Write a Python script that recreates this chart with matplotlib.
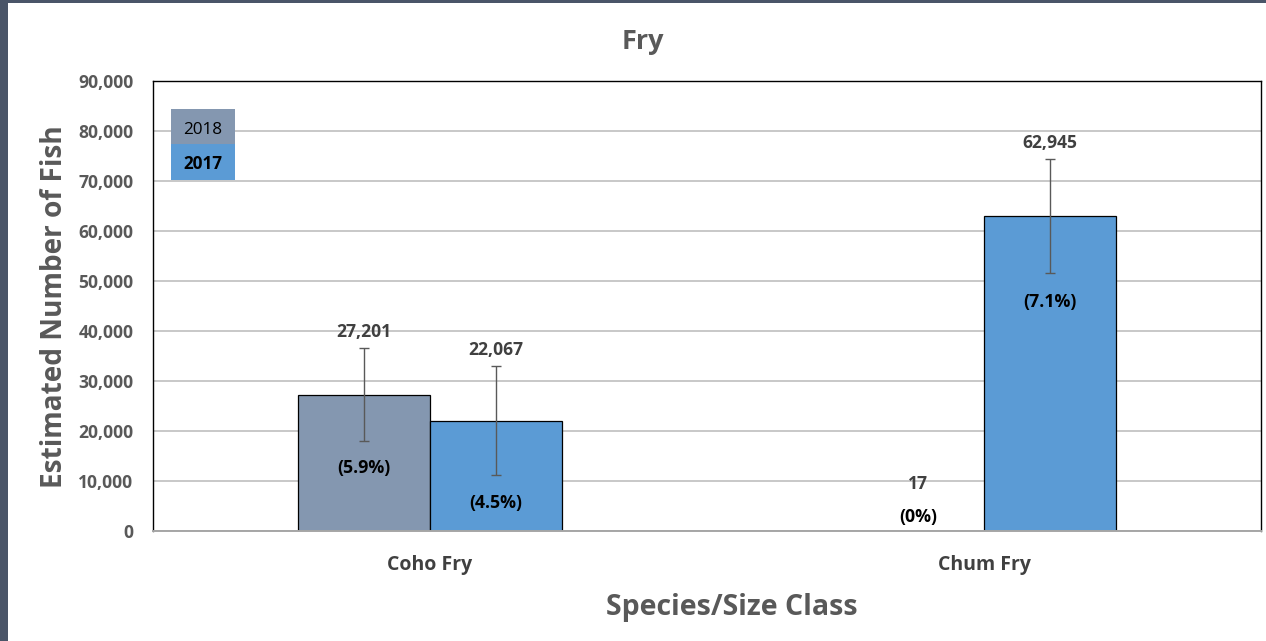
import matplotlib
matplotlib.use("Agg")
import matplotlib.pyplot as plt
from matplotlib.patches import Rectangle
from matplotlib.transforms import offset_copy
import numpy as np

# ---- data ----
categories = ["Coho Fry", "Chum Fry"]
years = ["2018", "2017"]
values_2018 = [27201, 17]
values_2017 = [22067, 62945]
err_2018 = [9300, 0]
err_2017 = [10900, 11400]
value_labels_2018 = ["27,201", "17"]
value_labels_2017 = ["22,067", "62,945"]
pct_labels_2018 = ["(5.9%)", "(0%)"]
pct_labels_2017 = ["(4.5%)", "(7.1%)"]
yticks = [0, 10000, 20000, 30000, 40000, 50000, 60000, 70000, 80000, 90000]

# ---- style ----
FONT = "Open Sans"
plt.rcParams["font.family"] = [FONT, "DejaVu Sans"]
c2018 = "#8497B0"
c2017 = "#5B9BD5"
grey_txt = "#595959"
dark_txt = "#404040"

W, H = 1266, 641
fig = plt.figure(figsize=(W / 100, H / 100), dpi=100)
fig.patch.set_facecolor("white")

fig.patches.append(Rectangle((0, 0), 8 / W, 1, transform=fig.transFigure,
                             facecolor="#4A5568", edgecolor="none", zorder=0))
fig.patches.append(Rectangle((0, 1 - 3 / H), 1, 3 / H, transform=fig.transFigure,
                             facecolor="#4A5568", edgecolor="none", zorder=0))

ax = fig.add_axes([153 / W, 110 / H, 1108 / W, 450 / H])
x = np.arange(len(categories))
bw = 0.238

ax.set_axisbelow(True)
ax.yaxis.grid(True, color="#C8C8C8", linewidth=1.4)
ax.set_ylim(0, 90000)
ax.set_xlim(-0.5, 1.5)
ax.set_yticks(yticks)
ax.set_yticklabels([f"{v:,}" for v in yticks])

errkw = dict(ecolor="#595959", elinewidth=1.0, capsize=3.5, capthick=1.0)
ax.bar(x - bw / 2, values_2018, bw, color=c2018, edgecolor="black", linewidth=0.9, zorder=2)
ax.bar(x + bw / 2, values_2017, bw, color=c2017, edgecolor="black", linewidth=0.9, zorder=2)
for xs, vals, errs in [(x - bw / 2, values_2018, err_2018), (x + bw / 2, values_2017, err_2017)]:
    for xi, v, e in zip(xs, vals, errs):
        if e > 0:
            ax.errorbar(xi, v, yerr=e, fmt="none", zorder=3, **errkw)

lbl_kw = dict(ha="center", va="center", fontsize=12.6, fontweight="bold", color=dark_txt)
off = offset_copy(ax.transData, fig=fig, x=0, y=16, units="dots")
for xs, vals, errs, labs in [(x - bw / 2, values_2018, err_2018, value_labels_2018),
                             (x + bw / 2, values_2017, err_2017, value_labels_2017)]:
    for xi, v, e, t in zip(xs, vals, errs, labs):
        if e > 0:
            ax.text(xi, v + e, t, transform=off, **lbl_kw)
        else:
            ax.text(xi, 9400, t, **lbl_kw)

pct_kw = dict(ha="center", va="center", fontsize=12.8, fontweight="bold", color="black")
pct_y_2018 = [12600, 2800]
pct_y_2017 = [5600, 45800]
for xs, labs, ys in [(x - bw / 2, pct_labels_2018, pct_y_2018), (x + bw / 2, pct_labels_2017, pct_y_2017)]:
    for xi, t, yy in zip(xs, labs, ys):
        ax.text(xi, yy, t, **pct_kw)

for s in ["left", "top", "right"]:
    ax.spines[s].set_color("black")
    ax.spines[s].set_linewidth(1.0)
ax.spines["bottom"].set_color("#A6A6A6")
ax.spines["bottom"].set_linewidth(1.4)
ax.tick_params(axis="both", length=0)
ax.tick_params(axis="y", pad=14, labelsize=12.6, labelcolor=grey_txt)
ax.tick_params(axis="x", pad=17, labelsize=14, labelcolor=dark_txt)
ax.set_xticks(x)
ax.set_xticklabels(categories)
for lab in ax.get_xticklabels() + ax.get_yticklabels():
    lab.set_fontweight("bold")

fig.text(643 / W, 1 - 42 / H, "Fry", ha="center", va="center", fontsize=19.5,
         fontweight="bold", color=grey_txt)
fig.text(55 / W, 1 - 307 / H, "Estimated Number of Fish", ha="center", va="center",
         rotation=90, fontsize=20.2, fontweight="bold", color=grey_txt)
fig.text(732 / W, 1 - 608 / H, "Species/Size Class", ha="center", va="center",
         fontsize=20.5, fontweight="bold", color=grey_txt)

lx, lw = 18 / 1108, 64 / 1108
ax.add_patch(Rectangle((lx, 0.86), lw, 0.0778, transform=ax.transAxes, facecolor=c2018,
                       edgecolor="none", zorder=4))
ax.add_patch(Rectangle((lx, 0.78), lw, 0.08, transform=ax.transAxes, facecolor=c2017,
                       edgecolor="none", zorder=4))
ax.text(lx + lw / 2, 0.892, years[0], transform=ax.transAxes, ha="center", va="center",
        fontsize=12.3, color="black", zorder=5)
ax.text(lx + lw / 2, 0.815, years[1], transform=ax.transAxes, ha="center", va="center",
        fontsize=12.3, fontweight="bold", color="black", zorder=5)

fig.savefig("out.png", dpi=100)
